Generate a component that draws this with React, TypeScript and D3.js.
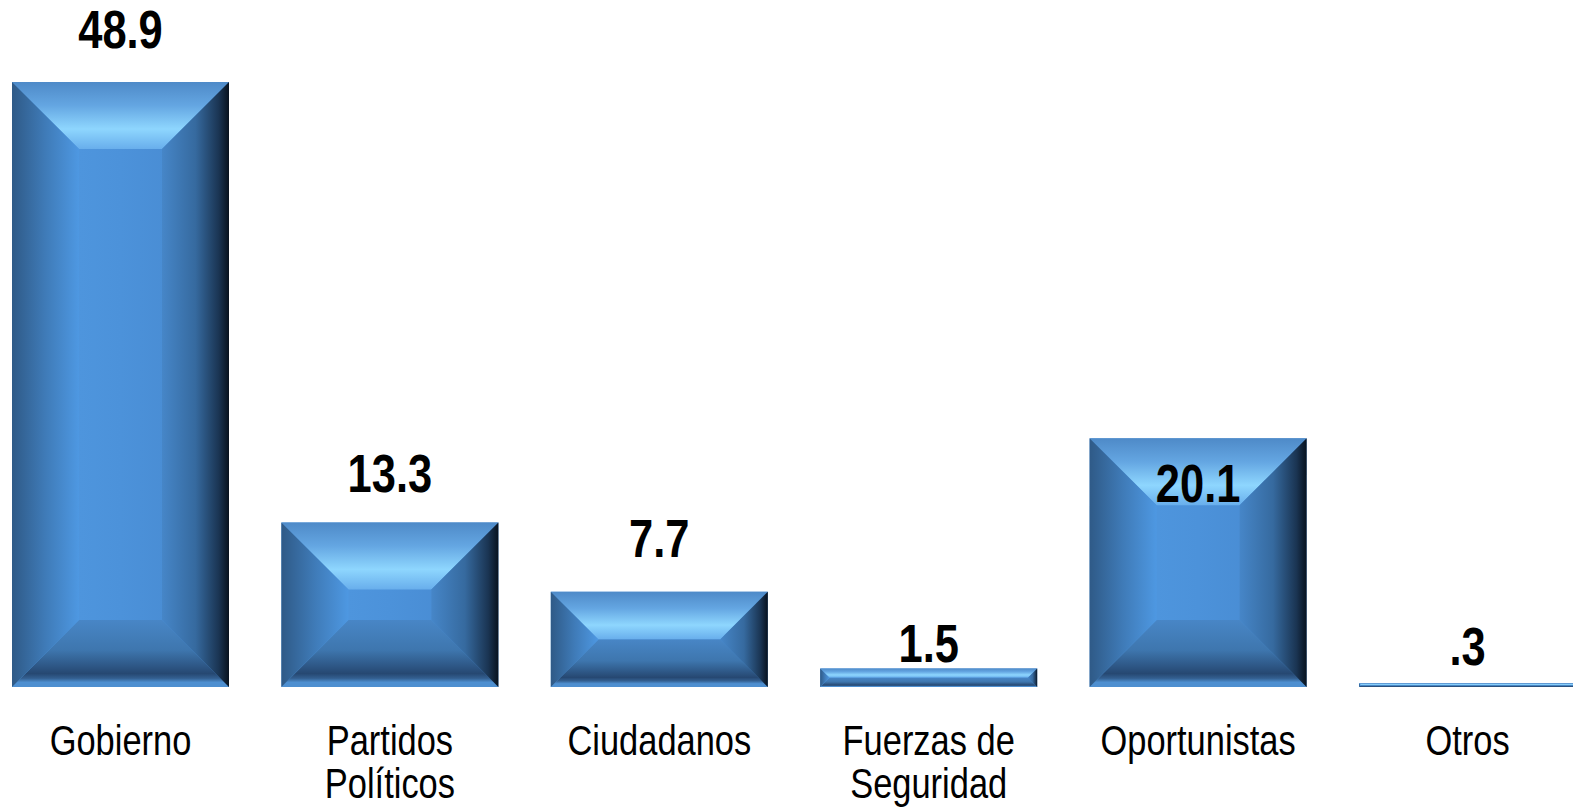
import React from "react";
import * as d3 from "d3";

const categories: string[][] = [
  ["Gobierno"],
  ["Partidos", "Políticos"],
  ["Ciudadanos"],
  ["Fuerzas de", "Seguridad"],
  ["Oportunistas"],
  ["Otros"],
];
const values: number[] = [48.9, 13.3, 7.7, 1.5, 20.1, 0.3];
const valueLabels: string[] = ["48.9", "13.3", "7.7", "1.5", "20.1", ".3"];
const labelDy: number[] = [-34, -30, -35, -6, 64, -18];

const W = 1573;
const H = 811;
const BEVEL = 67;
const FONT = "'Liberation Sans', Arial, 'DejaVu Sans', sans-serif";

export default function App() {
  const ids = categories.map((c) => c.join(" "));
  const x = d3
    .scaleBand<string>()
    .domain(ids)
    .range([12, 1576])
    .paddingInner(0.1945)
    .paddingOuter(0);
  const y = d3.scaleLinear().domain([0, 50]).range([687, 68.5]);
  const bw = x.bandwidth();

  return (
    <div style={{ position: "fixed", left: 0, top: 0, width: W, height: H, background: "#fff" }}>
      <svg width={W} height={H} style={{ display: "block" }}>
        <defs>
          <linearGradient id="gTop" x1="0" y1="0" x2="0" y2="1">
            <stop offset="0" stopColor="#4e8ac8" />
            <stop offset="0.35" stopColor="#64a6e2" />
            <stop offset="0.7" stopColor="#8ed6fe" />
            <stop offset="1" stopColor="#68aeec" />
          </linearGradient>
          <linearGradient id="gBot" x1="0" y1="0" x2="0" y2="1">
            <stop offset="0" stopColor="#4886c6" />
            <stop offset="0.45" stopColor="#3e76ae" />
            <stop offset="0.8" stopColor="#264872" />
            <stop offset="0.87" stopColor="#335f90" />
            <stop offset="0.93" stopColor="#4e8fd0" />
            <stop offset="1" stopColor="#4e8fd0" />
          </linearGradient>
          <linearGradient id="gLeft" x1="0" y1="0" x2="1" y2="0">
            <stop offset="0" stopColor="#2f5a87" />
            <stop offset="0.5" stopColor="#3f7bb8" />
            <stop offset="1" stopColor="#4e98e2" />
          </linearGradient>
          <linearGradient id="gRight" x1="0" y1="0" x2="1" y2="0">
            <stop offset="0" stopColor="#4686c8" />
            <stop offset="0.5" stopColor="#366a9f" />
            <stop offset="0.85" stopColor="#1a3452" />
            <stop offset="1" stopColor="#08121e" />
          </linearGradient>
          <linearGradient id="gFace" x1="0" y1="0" x2="1" y2="0">
            <stop offset="0" stopColor="#519ae2" />
            <stop offset="0.5" stopColor="#4c92da" />
            <stop offset="1" stopColor="#4687cd" />
          </linearGradient>
        </defs>
        {ids.map((id, i) => {
          const x0 = x(id)!;
          const x1 = x0 + bw;
          const y0 = y(values[i]);
          const y1 = y(0);
          const h = y1 - y0;
          const b = Math.min(BEVEL, h / 2);
          const pts = (p: number[][]) => p.map((q) => q.join(",")).join(" ");
          return (
            <g key={id}>
              <rect x={x0} y={y0} width={bw} height={h} fill="url(#gFace)" />
              <polygon
                points={pts([[x0, y0], [x1, y0], [x1 - b, y0 + b], [x0 + b, y0 + b]])}
                fill="url(#gTop)"
              />
              <polygon
                points={pts([[x0 + b, y1 - b], [x1 - b, y1 - b], [x1, y1], [x0, y1]])}
                fill="url(#gBot)"
              />
              <polygon
                points={pts([[x0, y0], [x0 + b, y0 + b], [x0 + b, y1 - b], [x0, y1]])}
                fill="url(#gLeft)"
              />
              <polygon
                points={pts([[x1 - b, y0 + b], [x1, y0], [x1, y1], [x1 - b, y1 - b]])}
                fill="url(#gRight)"
              />
            </g>
          );
        })}
        {ids.map((id, i) => {
          const cx = x(id)! + bw / 2;
          const ty = y(values[i]) + labelDy[i];
          return (
            <text
              key={"v" + id}
              transform={`translate(${cx},${ty}) scale(0.82,1)`}
              textAnchor="middle"
              fontFamily={FONT}
              fontWeight="bold"
              fontSize={53}
              fill="#000"
            >
              {valueLabels[i]}
            </text>
          );
        })}
        {ids.map((id, i) => {
          const cx = x(id)! + bw / 2;
          return categories[i].map((line, j) => (
            <text
              key={"c" + id + j}
              transform={`translate(${cx},${y(0) + 68 + j * 43}) scale(0.82,1)`}
              textAnchor="middle"
              fontFamily={FONT}
              fontSize={42}
              fill="#000"
            >
              {line}
            </text>
          ));
        })}
      </svg>
    </div>
  );
}
